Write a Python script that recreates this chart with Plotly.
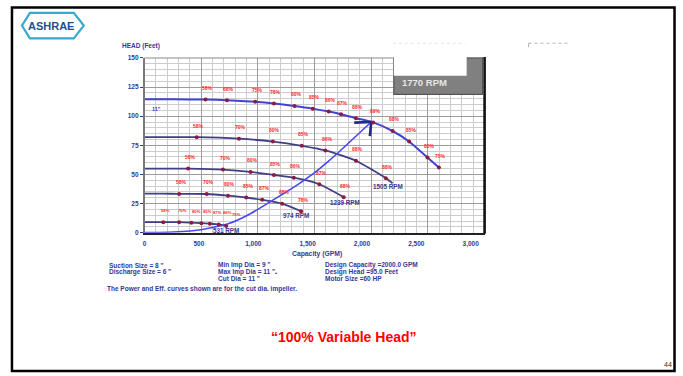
import plotly.graph_objects as go

W, H = 683, 376

# ---------------- data ----------------
# Pump head-capacity curves (capacity in GPM, head in feet).
# Each curve: a flat lead-in from shut-off, then the points where efficiency is marked.
lead_q_1770 = [0, 250]
lead_h_1770 = [114.5, 114.5]
dot_q_1770 = [537, 727, 976, 1141, 1323, 1484, 1625, 1733, 1865, 2017, 2188, 2334, 2496, 2597]
dot_h_1770 = [114.3, 113.7, 112.4, 111.0, 108.8, 106.5, 104.0, 101.7, 98.3, 94.7, 87.3, 78.3, 64.5, 56.0]
eff_1770 = ["58%", "68%", "75%", "78%", "80%", "85%", "86%", "87%", "88%", "89%", "88%", "85%", "80%", "75%"]

lead_q_1505 = [0, 250]
lead_h_1505 = [82.0, 82.0]
dot_q_1505 = [460, 833, 1132, 1387, 1595, 1865, 2129]
dot_h_1505 = [82.0, 80.7, 78.2, 74.6, 70.6, 61.8, 46.7]
eff_1505 = ["58%", "70%", "80%", "85%", "86%", "88%", "88%"]
tail_q_1505 = [2188]
tail_h_1505 = [42.5]

lead_q_1239 = [0, 200]
lead_h_1239 = [55.0, 55.0]
dot_q_1239 = [384, 692, 935, 1141, 1317, 1542, 1757]
dot_h_1239 = [55.0, 54.2, 52.2, 49.5, 47.2, 41.6, 30.5]
eff_1239 = ["58%", "70%", "80%", "85%", "86%", "87%", "88%"]

lead_q_974 = [0, 150]
lead_h_974 = [33.5, 33.5]
dot_q_974 = [305, 548, 736, 897, 1038, 1214, 1381]
dot_h_974 = [33.3, 33.2, 31.8, 30.2, 28.2, 24.9, 18.4]
eff_974 = ["58%", "70%", "80%", "85%", "87%", "88%", "78%"]

lead_q_531 = [0]
lead_h_531 = [9.0]
dot_q_531 = [165, 305, 413, 501, 575, 654, 720]
dot_h_531 = [9.0, 9.0, 8.6, 8.1, 7.7, 7.1, 5.8]
eff_531 = ["58%", "70%", "80%", "85%", "87%", "88%", "78%"]

# System curve (100% variable head) up to the design point
sys_q = [0, 250, 500, 750, 900, 1000, 1100, 1200, 1300, 1400, 1500, 1600, 1700, 1800, 1900, 2000]
sys_h = [0, 0.6, 2.5, 8.0, 14.5, 20.0, 26.0, 32.0, 38.0, 44.5, 51.5, 59.5, 68.0, 77.0, 86.0, 95.0]
design_q, design_h = 2000, 95.0

x_ticks = [0, 500, 1000, 1500, 2000, 2500, 3000]
y_ticks = [0, 25, 50, 75, 100, 125, 150]

rpm_labels = ["531 RPM", "974 RPM", "1239 RPM", "1505 RPM"]
rpm_label_q = [721, 1337, 1764, 2144]
rpm_label_h = [1.7, 15.1, 26.0, 39.4]

info_col1 = ['Suction Size = 8 "', 'Discharge Size = 6 "']
info_col2 = ['Min Imp Dia = 9 "', 'Max Imp Dia = 11 "', 'Cut Dia = 11 "']
info_col3 = ["Design Capacity =2000.0 GPM", "Design Head =95.0 Feet", "Motor Size =60 HP"]
footnote = "The Power and Eff. curves shown are for the cut dia. impeller."
headline = "\u201c100% Variable Head\u201d"
slide_no = "44"

# ---------------- styling ----------------
FONT = "Liberation Sans, Arial, sans-serif"
NAVY = "#34389a"
RED_TXT = "#ff2b2b"
DOT = "#8e1b3f"
CURVE_DARK = "#3f3f86"
CURVE_MAIN = "#4343d0"
SYS_BLUE = "#4747f2"


def P(x, y):
    """pixel position on the page -> paper fraction"""
    return x / W, 1 - y / H


fig = go.Figure()

curves = [
    (lead_q_1770, lead_h_1770, dot_q_1770, dot_h_1770, [], [], CURVE_MAIN, 2.0),
    (lead_q_1505, lead_h_1505, dot_q_1505, dot_h_1505, tail_q_1505, tail_h_1505, CURVE_DARK, 1.8),
    (lead_q_1239, lead_h_1239, dot_q_1239, dot_h_1239, [], [], CURVE_DARK, 1.8),
    (lead_q_974, lead_h_974, dot_q_974, dot_h_974, [], [], CURVE_DARK, 1.8),
    (lead_q_531, lead_h_531, dot_q_531, dot_h_531, [], [], CURVE_DARK, 1.8),
]
for lq, lh, dq, dh, tq, th, col, w in curves:
    fig.add_trace(go.Scatter(x=lq + dq + tq, y=lh + dh + th, mode="lines",
                             line=dict(color=col, width=w, shape="spline", smoothing=0.6),
                             hoverinfo="skip"))

fig.add_trace(go.Scatter(x=sys_q, y=sys_h, mode="lines",
                         line=dict(color=SYS_BLUE, width=1.6, shape="spline", smoothing=0.6),
                         hoverinfo="skip"))

# arrow head at the design point: one stroke to the left, one stroke downward
arm_q, arm_h = 150, 12
fig.add_trace(go.Scatter(x=[design_q - arm_q, design_q, None, design_q, design_q - 12],
                         y=[design_h - 0.5, design_h, None, design_h, design_h - arm_h],
                         mode="lines", line=dict(color="#1f2a86", width=2.6), hoverinfo="skip"))

for lq, lh, dq, dh, tq, th, col, w in curves:
    fig.add_trace(go.Scatter(x=dq, y=dh, mode="markers",
                             marker=dict(color=DOT, size=4), hoverinfo="skip"))

# invisible trace carrying the tick-label axis
fig.add_trace(go.Scatter(x=[None], y=[None], xaxis="x2", yaxis="y", hoverinfo="skip"))

ann = []
# efficiency labels above the marked points
for dq, dh, eff, fs, spread in [(dot_q_1770, dot_h_1770, eff_1770, 5, 0),
                                (dot_q_1505, dot_h_1505, eff_1505, 5, 0),
                                (dot_q_1239, dot_h_1239, eff_1239, 5, 0),
                                (dot_q_974, dot_h_974, eff_974, 5, 0),
                                (dot_q_531, dot_h_531, eff_531, 4.2, 1.4)]:
    for i, (q, h, e) in enumerate(zip(dq, dh, eff)):
        ann.append(dict(x=q, y=h, xref="x", yref="y", text=e, showarrow=False,
                        xshift=2 + spread * i, yshift=11.5, xanchor="center", yanchor="middle",
                        font=dict(family=FONT, size=fs, color=RED_TXT, weight="bold")))

for t, q, h in zip(rpm_labels, rpm_label_q, rpm_label_h):
    ann.append(dict(x=q, y=h, xref="x", yref="y", text=t, showarrow=False,
                    xanchor="center", yanchor="middle",
                    font=dict(family=FONT, size=6.3, color="#3b3b8f", weight="bold")))

ann.append(dict(x=106, y=106.4, xref="x", yref="y", text='11"', showarrow=False,
                xanchor="center", yanchor="middle",
                font=dict(family=FONT, size=5.5, color="#3a3ae0", weight="bold")))


def page_text(x, y, text, size, color=NAVY, anchor="left", bold=True, family=FONT):
    px, py = P(x, y)
    ann.append(dict(x=px, y=py, xref="paper", yref="paper", text=text, showarrow=False,
                    xanchor=anchor, yanchor="middle",
                    font=dict(family=family, size=size, color=color,
                              weight="bold" if bold else "normal")))


page_text(118, 42.3, "HEAD (Feet)", 6.5)
page_text(316, 255, "Capacity (GPM)", 6.8, anchor="center")
for i, t in enumerate(info_col1):
    page_text(105, 266 + 7 * i, t, 6.5)
for i, t in enumerate(info_col2):
    page_text(215, 266 + 7 * i, t, 6.5)
for i, t in enumerate(info_col3):
    page_text(322, 266 + 7 * i, t, 6.5)
page_text(271.5, 274, "\u2022", 6)
page_text(103.5, 290, footnote, 6.5)
page_text(343, 339, headline, 14, color="#ff0000", anchor="center")
page_text(667.5, 367, slide_no, 7, color="#333333", anchor="center", bold=False)
page_text(399, 79.5, "1770 RPM", 9.5, color="#e6e6e6")
page_text(49, 22.5, "ASHRAE", 11, color="#1d4f91", anchor="center",
          family="Liberation Sans Narrow, Arial Narrow, Liberation Sans, Arial")

shapes = []


def rect(x0, y0, x1, y1, **kw):
    a, b = P(x0, y0)
    c, d = P(x1, y1)
    shapes.append(dict(type="rect", xref="paper", yref="paper", x0=a, y0=d, x1=c, y1=b, **kw))


def seg(x0, y0, x1, y1, **kw):
    a, b = P(x0, y0)
    c, d = P(x1, y1)
    shapes.append(dict(type="line", xref="paper", yref="paper", x0=a, y0=b, x1=c, y1=d, **kw))


# plot frame: light top edge, heavy right edge
seg(143, 55, 484, 55, line=dict(color="#8a8a8a", width=1.2), layer="above")
seg(484, 54, 484, 234, line=dict(color="#111111", width=2.6), layer="above")

# speed caption box
rect(393, 55, 482, 92, fillcolor="#808080", line=dict(color="#555555", width=1.2), layer="above")
rect(393, 43, 466, 73, fillcolor="#ffffff", line=dict(width=0), layer="above")
seg(392, 40, 465, 40, line=dict(color="#e2e2e2", width=1, dash="dot"), layer="above")
seg(528, 40, 570, 40, line=dict(color="#b5b5b5", width=1, dash="dot"), layer="above")
seg(528, 40, 528, 44, line=dict(color="#b5b5b5", width=1), layer="above")

# logo outline
hx = [(20, 22), (28, 9), (72, 9), (82, 22), (72, 35), (28, 35)]
path = "M " + " L ".join(f"{P(x, y)[0]:.5f},{P(x, y)[1]:.5f}" for x, y in hx) + " Z"
shapes.append(dict(type="path", xref="paper", yref="paper", path=path,
                   line=dict(color="#3aa8cc", width=2.2), layer="above"))

# slide frame
rect(10, 3.5, 674.5, 374, line=dict(color="#000000", width=2.5), layer="above")

x_dom = [143 / W, 484 / W]
y_dom = [1 - 233 / H, 1 - 55 / H]
tickfont = dict(family=FONT, size=6.5, color=NAVY, weight="bold")

fig.update_layout(
    width=W, height=H, margin=dict(l=0, r=0, t=0, b=0),
    paper_bgcolor="white", plot_bgcolor="white", showlegend=False,
    xaxis=dict(domain=x_dom, range=[0, 3000], showticklabels=False, ticks="",
               tick0=0, dtick=500, showgrid=True, gridcolor="#9c9c9c", gridwidth=1,
               minor=dict(tick0=0, dtick=100, showgrid=True, gridcolor="#cdcdcd", gridwidth=1),
               showline=True, linecolor="#222222", linewidth=2, zeroline=False, fixedrange=True),
    xaxis2=dict(domain=x_dom, overlaying="x", anchor="y", side="bottom",
                range=[0, 3128], tickmode="array", tickvals=x_ticks, tickformat=",d",
                showgrid=False, zeroline=False, showline=False,
                ticks="outside", ticklen=5, tickcolor="rgba(0,0,0,0)", tickfont=tickfont),
    yaxis=dict(domain=y_dom, range=[0, 150], tickmode="array", tickvals=y_ticks,
               showgrid=True, gridcolor="#9c9c9c", gridwidth=1,
               minor=dict(tick0=0, dtick=5, showgrid=True, gridcolor="#cdcdcd", gridwidth=1),
               ticks="outside", ticklen=3, tickcolor=NAVY, tickwidth=1, tickfont=tickfont,
               showline=True, linecolor="#7a7a7a", linewidth=1.5, zeroline=False, fixedrange=True),
    annotations=ann, shapes=shapes,
)

fig.write_html("out.html")
